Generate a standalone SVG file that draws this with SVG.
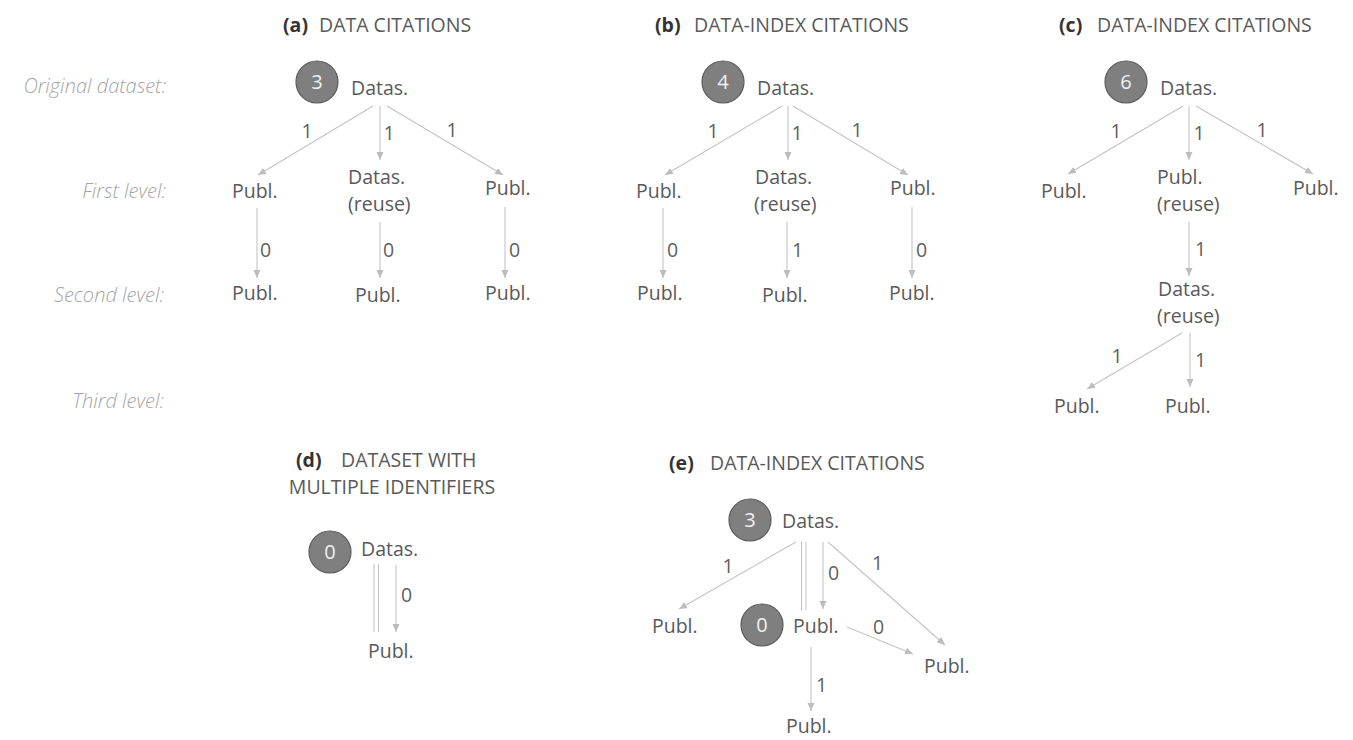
<svg xmlns="http://www.w3.org/2000/svg" width="1353" height="740" viewBox="0 0 1353 740">
<defs>
<marker id="ah" markerWidth="8" markerHeight="8" refX="8" refY="3.5" orient="auto" markerUnits="userSpaceOnUse">
<path d="M0,0 L8,3.5 L0,7 z" fill="#bdbdbd"/>
</marker>
<style>
text{font-family:"Open Sans","Noto Sans","Liberation Sans",sans-serif;}
.t{font-size:19.5px;fill:#595959;}
.h{font-size:19.5px;fill:#595959;}
.hb{font-weight:bold;fill:#333333;}
.lv{font-size:20px;fill:#a6a6a6;font-style:italic;font-weight:300;text-anchor:end;}
.n{font-size:19.5px;fill:#5f5f5f;}
.c{fill:#7f7f7f;stroke:#5a5a5a;stroke-width:1.2;}
.cn{font-size:20px;fill:#f0f0f0;text-anchor:middle;}
.e{stroke:#c4c4c4;stroke-width:1.1;fill:none;marker-end:url(#ah);}
.p{stroke:#c4c4c4;stroke-width:1.1;fill:none;}
.m{text-anchor:middle;}
</style>
</defs>
<rect width="1353" height="740" fill="#ffffff"/>

<g id="level-labels">
<text class="lv" x="166" y="93">Original dataset:</text>
<text class="lv" x="166" y="198">First level:</text>
<text class="lv" x="164" y="302">Second level:</text>
<text class="lv" x="164" y="408">Third level:</text>
</g>

<g id="titles">
<text class="h" x="283" y="32"><tspan class="hb">(a)</tspan><tspan x="319">DATA CITATIONS</tspan></text>
<text class="h" x="655" y="32"><tspan class="hb">(b)</tspan><tspan x="694">DATA-INDEX CITATIONS</tspan></text>
<text class="h" x="1059" y="32"><tspan class="hb">(c)</tspan><tspan x="1097">DATA-INDEX CITATIONS</tspan></text>
<text class="h" x="296" y="467"><tspan class="hb">(d)</tspan><tspan x="341">DATASET WITH</tspan></text>
<text class="h m" x="392" y="494">MULTIPLE IDENTIFIERS</text>
<text class="h" x="669" y="470"><tspan class="hb">(e)</tspan><tspan x="710">DATA-INDEX CITATIONS</tspan></text>
</g>

<g id="connectors">
<!-- (a) -->
<line class="e" x1="373" y1="106" x2="258" y2="175"/>
<line class="e" x1="380" y1="106" x2="380" y2="160"/>
<line class="e" x1="387" y1="106" x2="503" y2="175"/>
<line class="e" x1="257" y1="208" x2="257" y2="278"/>
<line class="e" x1="380" y1="222" x2="380" y2="278"/>
<line class="e" x1="505" y1="207" x2="505" y2="278"/>
<!-- (b) -->
<line class="e" x1="782" y1="106" x2="665" y2="175"/>
<line class="e" x1="788" y1="106" x2="788" y2="160"/>
<line class="e" x1="793" y1="106" x2="908" y2="175"/>
<line class="e" x1="663" y1="208" x2="663" y2="278"/>
<line class="e" x1="787" y1="222" x2="787" y2="278"/>
<line class="e" x1="912" y1="207" x2="912" y2="278"/>
<!-- (c) -->
<line class="e" x1="1183" y1="106" x2="1068" y2="174"/>
<line class="e" x1="1189" y1="106" x2="1189" y2="160"/>
<line class="e" x1="1196" y1="106" x2="1313" y2="174"/>
<line class="e" x1="1189" y1="222" x2="1189" y2="276"/>
<line class="e" x1="1182" y1="333" x2="1087" y2="389"/>
<line class="e" x1="1190" y1="333" x2="1190" y2="387"/>
<!-- (d) -->
<line class="p" x1="374" y1="564" x2="374" y2="632"/>
<line class="p" x1="378.5" y1="564" x2="378.5" y2="632"/>
<line class="e" x1="396" y1="565" x2="396" y2="632"/>
<!-- (e) -->
<line class="e" x1="796" y1="542" x2="679" y2="609"/>
<line class="p" x1="801.5" y1="542" x2="801.5" y2="610"/>
<line class="p" x1="806" y1="542" x2="806" y2="610"/>
<line class="e" x1="823" y1="542" x2="823" y2="609"/>
<line class="e" x1="828" y1="542" x2="945" y2="645"/>
<line class="e" x1="847" y1="627" x2="913" y2="654"/>
<line class="e" x1="811" y1="647" x2="811" y2="711"/>
</g>

<g id="edge-labels">
<text class="n m" x="307" y="138">1</text>
<text class="n m" x="389" y="140">1</text>
<text class="n m" x="452" y="137">1</text>
<text class="n" x="260" y="257">0</text>
<text class="n" x="383" y="257">0</text>
<text class="n" x="509" y="257">0</text>

<text class="n m" x="713" y="138">1</text>
<text class="n m" x="797" y="140">1</text>
<text class="n m" x="857" y="137">1</text>
<text class="n" x="667" y="257">0</text>
<text class="n" x="792" y="257">1</text>
<text class="n" x="916" y="257">0</text>

<text class="n m" x="1116" y="138">1</text>
<text class="n m" x="1199" y="140">1</text>
<text class="n m" x="1262" y="137">1</text>
<text class="n" x="1195" y="256">1</text>
<text class="n m" x="1117" y="363">1</text>
<text class="n" x="1195" y="367">1</text>

<text class="n" x="401" y="602">0</text>

<text class="n m" x="728" y="573">1</text>
<text class="n" x="828" y="580">0</text>
<text class="n" x="872" y="570">1</text>
<text class="n" x="873" y="634">0</text>
<text class="n" x="816" y="692">1</text>
</g>

<g id="a-root"><circle class="c" cx="317" cy="82" r="21"/><text class="cn" x="317" y="89">3</text><text class="t" x="351" y="95">Datas.</text></g>
<g id="a-l1-left"><text class="t" x="232" y="198">Publ.</text></g>
<g id="a-l1-mid"><text class="t" x="348" y="184">Datas.</text><text class="t" x="348" y="211">(reuse)</text></g>
<g id="a-l1-right"><text class="t" x="485" y="195">Publ.</text></g>
<g id="a-l2-left"><text class="t" x="232" y="300">Publ.</text></g>
<g id="a-l2-mid"><text class="t" x="355" y="302">Publ.</text></g>
<g id="a-l2-right"><text class="t" x="485" y="300">Publ.</text></g>

<g id="b-root"><circle class="c" cx="723" cy="82" r="21"/><text class="cn" x="723" y="89">4</text><text class="t" x="757" y="95">Datas.</text></g>
<g id="b-l1-left"><text class="t" x="636" y="198">Publ.</text></g>
<g id="b-l1-mid"><text class="t" x="755" y="184">Datas.</text><text class="t" x="754" y="211">(reuse)</text></g>
<g id="b-l1-right"><text class="t" x="890" y="195">Publ.</text></g>
<g id="b-l2-left"><text class="t" x="637" y="300">Publ.</text></g>
<g id="b-l2-mid"><text class="t" x="762" y="302">Publ.</text></g>
<g id="b-l2-right"><text class="t" x="889" y="300">Publ.</text></g>

<g id="c-root"><circle class="c" cx="1126" cy="82" r="21"/><text class="cn" x="1126" y="89">6</text><text class="t" x="1160" y="95">Datas.</text></g>
<g id="c-l1-left"><text class="t" x="1041" y="198">Publ.</text></g>
<g id="c-l1-mid"><text class="t" x="1157" y="184">Publ.</text><text class="t" x="1157" y="211">(reuse)</text></g>
<g id="c-l1-right"><text class="t" x="1293" y="195">Publ.</text></g>
<g id="c-l2"><text class="t" x="1158" y="296">Datas.</text><text class="t" x="1157" y="323">(reuse)</text></g>
<g id="c-l3-left"><text class="t" x="1054" y="413">Publ.</text></g>
<g id="c-l3-right"><text class="t" x="1165" y="413">Publ.</text></g>

<g id="d-root"><circle class="c" cx="330" cy="552" r="21"/><text class="cn" x="330" y="559">0</text><text class="t" x="361" y="556">Datas.</text></g>
<g id="d-publ"><text class="t" x="368" y="658">Publ.</text></g>

<g id="e-root"><circle class="c" cx="750" cy="520" r="21"/><text class="cn" x="750" y="527">3</text><text class="t" x="782" y="528">Datas.</text></g>
<g id="e-left"><text class="t" x="652" y="633">Publ.</text></g>
<g id="e-mid"><circle class="c" cx="762" cy="625" r="21"/><text class="cn" x="762" y="632">0</text><text class="t" x="793" y="633">Publ.</text></g>
<g id="e-right"><text class="t" x="924" y="673">Publ.</text></g>
<g id="e-bottom"><text class="t" x="786" y="733">Publ.</text></g>
</svg>
